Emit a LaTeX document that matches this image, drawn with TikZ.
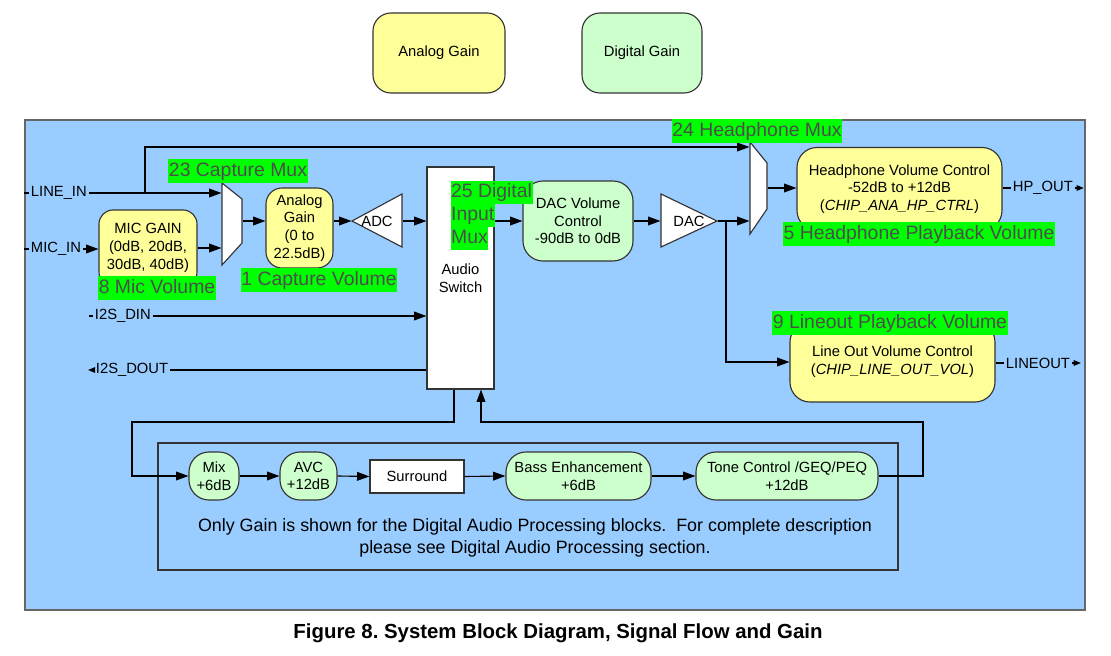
\documentclass[tikz,border=0pt]{standalone}
\usepackage{fontspec}
\setmainfont{Liberation Sans}
\usetikzlibrary{positioning,arrows.meta,calc}
\frenchspacing

\definecolor{panelblue}{HTML}{99CCFF}
\definecolor{anayellow}{HTML}{FFFF99}
\definecolor{diggreen}{HTML}{CCFFCC}
\definecolor{taggreen}{HTML}{00FF00}
\definecolor{taggray}{HTML}{4D4D4D}

\begin{document}
\begin{tikzpicture}[x=0.25mm, y=-0.25mm, >={Triangle[length=3.1mm,width=2.2mm]},
  font=\fontsize{10.5}{12.6}\selectfont, line width=0.8pt,
  ana/.style={draw=black!80, fill=anayellow, rounded corners=4mm, align=center, inner sep=1pt},
  dig/.style={draw=black!80, fill=diggreen, rounded corners=5mm, align=center, inner sep=1pt},
  plain/.style={draw=black!80, fill=white, align=center, inner sep=1pt},
  hole/.style={inner sep=0pt},
  shapeline/.style={draw=black!80, fill=white},
  port/.style={inner sep=1pt},
  tag/.style={fill=taggreen, text=taggray, font=\fontsize{13.8}{16}\selectfont,
    inner xsep=0.4pt, inner ysep=1.5pt, text height=10.5pt, text depth=3pt},
  tip/.style={-{Triangle[length=1.8mm,width=1.4mm]}}]
  \useasboundingbox (0,0) rectangle (1111,656);

  % legend
  \node[ana, minimum width=33mm, minimum height=20mm, rounded corners=4.5mm] (legana) at (439,53) {Analog Gain};
  \node[dig, minimum width=30mm, minimum height=20mm, rounded corners=4.5mm] (legdig) at (642,53) {Digital Gain};

  % blue panel
  \node[draw=black!60, fill=panelblue, minimum width=265mm, minimum height=122.5mm, inner sep=0pt] (panel) at (555,365) {};
  \node[font=\bfseries\fontsize{14.5}{17}\selectfont] (caption) at (558,633) {Figure 8. System Block Diagram, Signal Flow and Gain};

  % input ports
  \node[port, anchor=west] (linein) at (29,193) {LINE\_IN};
  \node[port, anchor=west] (micin) at (29,249) {MIC\_IN};
  \node[port, anchor=west] (i2sdin) at (93,316) {I2S\_DIN};
  \node[port, anchor=west] (i2sdout) at (94,370) {I2S\_DOUT};
  \draw (panel.west |- linein) -- (linein.west);
  \draw (panel.west |- micin) -- (micin.west);
  \draw ($(i2sdin.west)+(-4,0)$) -- (i2sdin.west);
  \draw[tip] (i2sdout.west) -- ++(-6,0);

  % capture path
  \node[ana, minimum width=24.5mm, minimum height=19mm, rounded corners=3.5mm] (micgain) at (148,248) {MIC GAIN\\(0dB, 20dB,\\30dB, 40dB)};
  \draw[shapeline] (222,183) -- (242,199) -- (242,243) -- (222,265) -- cycle;
  \node[hole, minimum width=5mm, minimum height=20.5mm] (cmux) at (232,224) {};
  \node[ana, minimum width=16.75mm, minimum height=20mm] (again) at (299.5,228) {Analog\\Gain\\(0 to\\22.5dB)};
  \draw[shapeline] (352,221) -- (402,194) -- (402,247) -- cycle;
  \node[hole, minimum width=12.5mm, minimum height=13.25mm] (adc) at (377,221) {ADC};
  \node[plain, minimum width=16.75mm, minimum height=55.5mm] (sw) at (460.5,278) {Audio\\Switch};

  % playback path
  \node[dig, minimum width=27.5mm, minimum height=20mm] (dacvol) at (578,221) {DAC Volume\\Control\\-90dB to 0dB};
  \draw[shapeline] (661,194) -- (717,221) -- (661,247) -- cycle;
  \node[hole, minimum width=14mm, minimum height=13.25mm] (dac) at (689,221) {DAC};
  \draw[shapeline] (750,142) -- (767,163) -- (767,209) -- (750,234) -- cycle;
  \node[hole, minimum width=4.25mm, minimum height=23mm] (hmux) at (758.5,188) {};
  \node[ana, minimum width=51.25mm, minimum height=20.75mm, rounded corners=5mm] (hpvol) at (899.5,189) {Headphone Volume Control\\-52dB to +12dB\\(\textit{CHIP\_ANA\_HP\_CTRL})};
  \node[ana, minimum width=51.25mm, minimum height=20mm, rounded corners=5mm] (lovol) at (892.5,362) {Line Out Volume Control\\(\textit{CHIP\_LINE\_OUT\_VOL})};

  % output ports
  \node[port, anchor=west] (hpout) at (1011,188) {HP\_OUT};
  \node[port, anchor=west] (lineout) at (1004,363) {LINEOUT};
  \draw (hpvol.east |- hpout) -- (hpout.west);
  \draw (lovol.east |- lineout) -- (lineout.west);
  \draw[tip] (hpout.east) -- ++(9,0);
  \draw[tip] (lineout.east) -- ++(9,0);

  % digital audio processing
  \node[draw=black!80, minimum width=185mm, minimum height=31.75mm, inner sep=0pt] (dsp) at (528,506.5) {};
  \node[dig, minimum width=12.5mm, minimum height=12mm] (mix) at (214,476) {Mix\\+6dB};
  \node[dig, minimum width=14.25mm, minimum height=12mm] (avc) at (308.5,476) {AVC\\+12dB};
  \node[plain, minimum width=23.5mm, minimum height=8.25mm] (surr) at (417,476.5) {Surround};
  \node[dig, minimum width=36.25mm, minimum height=12mm] (bass) at (578.5,476) {Bass Enhancement\\+6dB};
  \node[dig, minimum width=45.5mm, minimum height=12mm] (tone) at (787,476) {Tone Control /GEQ/PEQ\\+12dB};
  \node[font=\fontsize{12.7}{15.6}\selectfont, align=center] (note) at (535,538)
    {Only Gain is shown for the Digital Audio Processing blocks.\ \ For complete description\\please see Digital Audio Processing section.};

  % connections
  \coordinate (hpbranch) at (145,193);
  \coordinate (lobranch) at (726,221);
  \coordinate (loopL) at (132,422);
  \coordinate (loopR) at (923,422);
  \draw[->] (linein.east) -- (linein.east -| cmux.west);
  \draw[->] (hpbranch) |- ($(hmux.west)+(0,-41)$);
  \draw[->] (micin.east) -- (micgain.west |- micin);
  \draw[->] (micgain.east) -- (micgain.east -| cmux.west);
  \draw[->] (cmux.east |- adc) -- (again.west |- adc);
  \draw[->] (again.east |- adc) -- (adc.west);
  \draw[->] (adc.east) -- (adc.east -| sw.west);
  \draw[->] (i2sdin.east) -- (i2sdin.east -| sw.west);
  \draw (sw.west |- i2sdout) -- (i2sdout.east);
  \draw[->] (sw.east |- adc) -- (dacvol.west |- adc);
  \draw[->] (dacvol.east |- dac) -- (dac.west);
  \draw[->] (dac.east) -- (dac.east -| hmux.west);
  \draw[->] (lobranch) |- (lovol.west);
  \draw[->] (hmux.east) -- (hpvol.west |- hmux.east);
  \draw[->] ($(sw.south)+(-6.5,0)$) |- (loopL) |- (mix.west);
  \draw[->] (mix.east) -- (avc.west);
  \draw[->] (avc.east) -- (surr.west);
  \draw[->] (surr.east) -- (bass.west);
  \draw[->] (bass.east) -- (tone.west);
  \draw[->] (tone.east) -| (loopR) -| ($(sw.south)+(20.5,0)$);

  % control names
  \node[tag] (tagcapmux) at (238,171) {23 Capture Mux};
  \node[tag] (tagmicvol) at (157,288) {8 Mic Volume};
  \node[tag] (tagcapvol) at (319,280) {1 Capture Volume};
  \node[tag, anchor=west] (tagdigmux) at (450,192.5) {25 Digital};
  \node[tag, anchor=west] (tagdigin) at (450,215.5) {Input};
  \node[tag, anchor=west] (tagdigmx) at (450,238.5) {Mux};
  \node[tag] (taghpmux) at (757,131) {24 Headphone Mux};
  \node[tag] (taghpvol) at (919,234) {5 Headphone Playback Volume};
  \node[tag] (taglovol) at (890,323) {9 Lineout Playback Volume};
\end{tikzpicture}
\end{document}
